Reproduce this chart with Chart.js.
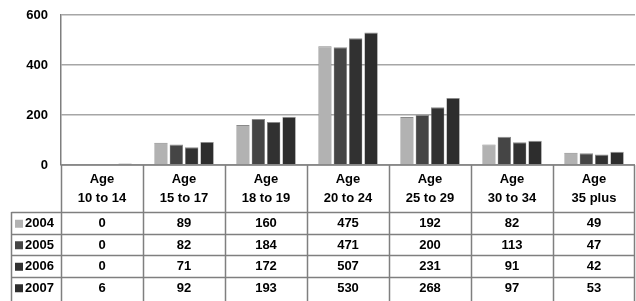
<!DOCTYPE html>
<html>
<head>
<meta charset="utf-8">
<script src="https://cdn.jsdelivr.net/npm/chart.js@4.4.0/dist/chart.umd.min.js"></script>
<style>
  html, body { margin: 0; padding: 0; background: #fff; }
  #wrap { width: 636px; height: 301px; position: relative; }
</style>
</head>
<body>
<div id="wrap"><canvas id="barChart" width="636" height="301"></canvas></div>
<script>
var categories = ["Age 10 to 14", "Age 15 to 17", "Age 18 to 19", "Age 20 to 24", "Age 25 to 29", "Age 30 to 34", "Age 35 plus"];
var categoryLines = [["Age", "10 to 14"], ["Age", "15 to 17"], ["Age", "18 to 19"], ["Age", "20 to 24"], ["Age", "25 to 29"], ["Age", "30 to 34"], ["Age", "35 plus"]];
var years = ["2004", "2005", "2006", "2007"];
var values2004 = [0, 89, 160, 475, 192, 82, 49];
var values2005 = [0, 82, 184, 471, 200, 113, 47];
var values2006 = [0, 71, 172, 507, 231, 91, 42];
var values2007 = [6, 92, 193, 530, 268, 97, 53];
var yTicks = [0, 200, 400, 600];

var colors = ["#b2b2b2", "#454545", "#313131", "#2d2d2d"];
var seriesValues = [values2004, values2005, values2006, values2007];
var font = "bold 13px 'Liberation Sans', Arial, sans-serif";
var lineColor = "#7f7f7f";

// draws the data table under the plot
var tablePlugin = {
    id: 'dataTable',
    afterDraw: function (chart) {
        var ctx = chart.ctx;
        var area = chart.chartArea;
        var xs = chart.scales.x;
        var catW = (area.right - area.left) / categories.length;
        var headBottom = 212;
        var rowH = 21.5;
        var tableBottom = 301;
        var legendLeft = 11.5;

        ctx.save();
        ctx.strokeStyle = lineColor;
        ctx.lineWidth = 1.5;

        // x axis line
        ctx.beginPath();
        ctx.moveTo(area.left, area.bottom);
        ctx.lineTo(area.right, area.bottom);
        ctx.stroke();

        // column borders
        for (var i = 0; i <= categories.length; i++) {
            var x = Math.round(area.left + i * catW) + 0.5;
            if (i == categories.length) x = area.right - 0.5;
            ctx.beginPath();
            ctx.moveTo(x, area.bottom);
            ctx.lineTo(x, tableBottom);
            ctx.stroke();
        }
        // legend column left border
        ctx.beginPath();
        ctx.moveTo(legendLeft, headBottom);
        ctx.lineTo(legendLeft, tableBottom);
        ctx.stroke();

        // row lines
        for (var r = 0; r < years.length; r++) {
            var y = Math.round(headBottom + r * rowH) + 0.5;
            ctx.beginPath();
            ctx.moveTo(legendLeft, y);
            ctx.lineTo(area.right, y);
            ctx.stroke();
        }

        ctx.fillStyle = "#000";
        ctx.font = font;
        ctx.textAlign = "center";
        ctx.textBaseline = "middle";

        // header
        for (var c = 0; c < categories.length; c++) {
            var cx = xs.getPixelForValue(c);
            ctx.fillText(categoryLines[c][0], cx, 179);
            ctx.fillText(categoryLines[c][1], cx, 198);
        }

        // rows
        for (var s = 0; s < years.length; s++) {
            var cy = headBottom + s * rowH + rowH / 2 + 1;
            for (var k = 0; k < categories.length; k++) {
                ctx.fillText(String(seriesValues[s][k]), xs.getPixelForValue(k), cy);
            }
            ctx.fillStyle = colors[s];
            ctx.fillRect(15, cy - 4, 8, 8);
            ctx.fillStyle = "#000";
            ctx.textAlign = "left";
            ctx.fillText(years[s], 25, cy);
            ctx.textAlign = "center";
        }
        ctx.restore();
    }
};

var datasets = [];
for (var i = 0; i < years.length; i++) {
    datasets.push({
        label: years[i],
        data: seriesValues[i],
        backgroundColor: colors[i],
        borderColor: "#8a8a8a",
        borderWidth: { top: 1, left: 0.5, right: 0.5, bottom: 0 },
        categoryPercentage: 0.75,
        barPercentage: 0.87
    });
}

var mainChart = new Chart(document.getElementById('barChart'), {
    type: 'bar',
    data: { labels: categories, datasets: datasets },
    options: {
        responsive: false,
        animation: false,
        layout: { padding: { top: 15, bottom: 136, right: 1, left: 0 } },
        plugins: { legend: { display: false }, tooltip: { enabled: false } },
        scales: {
            x: { display: false },
            y: {
                min: 0,
                max: 600,
                afterBuildTicks: function (scale) {
                    scale.ticks = yTicks.map(function (v) { return { value: v }; });
                },
                afterFit: function (scale) {
                    scale.width = 61;
                    scale.paddingTop = 0;
                    scale.paddingBottom = 0;
                },
                ticks: {
                    color: "#000",
                    padding: 13,
                    font: { family: "'Liberation Sans', Arial, sans-serif", size: 13, weight: 'bold' }
                },
                grid: { color: "#a6a6a6", lineWidth: 1.5, drawTicks: false },
                border: { color: lineColor, width: 1.5 }
            }
        }
    },
    plugins: [tablePlugin]
});
</script>
</body>
</html>
